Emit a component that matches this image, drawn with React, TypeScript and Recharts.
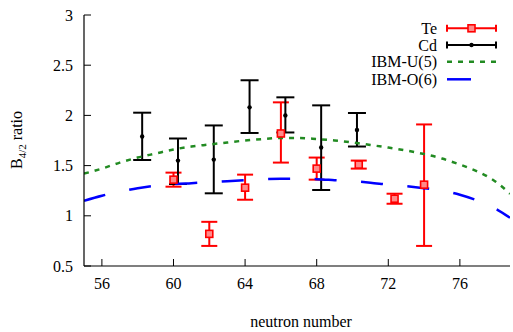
import { ComposedChart, XAxis, YAxis, Line, Scatter, ErrorBar } from 'recharts';

const xTicks = [56, 60, 64, 68, 72, 76];
const yTicks = [0.5, 1, 1.5, 2, 2.5, 3];

// Te data (value with asymmetric error range)
const teN = [60, 62, 64, 66, 68, 70.35, 72.35, 74];
const teRatio = [1.36, 0.82, 1.28, 1.82, 1.47, 1.51, 1.17, 1.31];
const teLow = [1.29, 0.7, 1.16, 1.53, 1.36, 1.47, 1.12, 0.7];
const teHigh = [1.43, 0.94, 1.41, 2.13, 1.58, 1.55, 1.22, 1.91];

// Cd data
const cdN = [58.25, 60.25, 62.25, 64.25, 66.25, 68.25, 70.25];
const cdRatio = [1.79, 1.55, 1.56, 2.08, 2.0, 1.68, 1.855];
const cdLow = [1.556, 1.317, 1.224, 1.825, 1.83, 1.257, 1.69];
const cdHigh = [2.027, 1.77, 1.9, 2.35, 2.18, 2.1, 2.024];

// model curves
const curveN = [55, 56, 57, 58, 59, 60, 61, 62, 63, 64, 65, 66, 67, 68, 69, 70, 71, 72, 73, 74, 75, 76, 77, 78, 78.8];
const ibmU5 = [1.42, 1.47, 1.53, 1.58, 1.62, 1.66, 1.69, 1.71, 1.73, 1.75, 1.765, 1.775, 1.775, 1.765, 1.75, 1.73, 1.705, 1.68, 1.65, 1.615, 1.57, 1.51, 1.44, 1.34, 1.22];
const ibmO6 = [1.15, 1.2, 1.24, 1.275, 1.3, 1.315, 1.325, 1.335, 1.345, 1.355, 1.365, 1.37, 1.37, 1.365, 1.355, 1.345, 1.33, 1.31, 1.295, 1.275, 1.25, 1.21, 1.15, 1.07, 0.98];

const teData = teN.map((x, i) => ({ x, y: teRatio[i], err: [teRatio[i] - teLow[i], teHigh[i] - teRatio[i]] }));
const cdData = cdN.map((x, i) => ({ x, y: cdRatio[i], err: [cdRatio[i] - cdLow[i], cdHigh[i] - cdRatio[i]] }));
const u5Data = curveN.map((x, i) => ({ x, y: ibmU5[i] }));
const o6Data = curveN.map((x, i) => ({ x, y: ibmO6[i] }));

const FONT = '"Liberation Serif", "Times New Roman", serif';
const RED = '#ff0000';
const GREEN = '#228b22';
const BLUE = '#0000ff';
const tickStyle = { fill: '#000', fontSize: 16, fontFamily: FONT };
const blank = () => '';

const TeMarker = (p: any) => (
  <rect x={p.cx - 3.5} y={p.cy - 3.5} width={7} height={7} fill="#ff8a8a" stroke={RED} strokeWidth={1.6} />
);
const CdMarker = (p: any) => <circle cx={p.cx} cy={p.cy} r={2.2} fill="#000" />;

function LegendBlock() {
  const x0 = 447;
  const x1 = 496;
  const tx = 437;
  const rows = [28.3, 45, 61.7, 79.3];
  return (
    <g fontFamily={FONT} fontSize={16}>
      <text x={tx} y={rows[0] + 5.6} textAnchor="end">Te</text>
      <line x1={x0} y1={rows[0]} x2={x1} y2={rows[0]} stroke={RED} strokeWidth={2} />
      <line x1={x0} y1={rows[0] - 3.5} x2={x0} y2={rows[0] + 3.5} stroke={RED} strokeWidth={2} />
      <line x1={x1} y1={rows[0] - 3.5} x2={x1} y2={rows[0] + 3.5} stroke={RED} strokeWidth={2} />
      <TeMarker cx={(x0 + x1) / 2} cy={rows[0]} />

      <text x={tx} y={rows[1] + 5.6} textAnchor="end">Cd</text>
      <line x1={x0} y1={rows[1]} x2={x1} y2={rows[1]} stroke="#000" strokeWidth={2} />
      <line x1={x0} y1={rows[1] - 3.5} x2={x0} y2={rows[1] + 3.5} stroke="#000" strokeWidth={2} />
      <line x1={x1} y1={rows[1] - 3.5} x2={x1} y2={rows[1] + 3.5} stroke="#000" strokeWidth={2} />
      <CdMarker cx={(x0 + x1) / 2} cy={rows[1]} />

      <text x={tx} y={rows[2] + 5.6} textAnchor="end">IBM-U(5)</text>
      <line x1={x0} y1={rows[2]} x2={x1} y2={rows[2]} stroke={GREEN} strokeWidth={2.5} strokeDasharray="5 6" />

      <text x={tx} y={rows[3] + 5.6} textAnchor="end">IBM-O(6)</text>
      <line x1={x0} y1={rows[3]} x2={471} y2={rows[3]} stroke={BLUE} strokeWidth={2.5} />
    </g>
  );
}

function AxisTitles() {
  return (
    <g fontFamily={FONT} fontSize={16} fill="#000">
      <text x={301} y={327} textAnchor="middle">neutron number</text>
      <text x={0} y={0} textAnchor="middle" transform="translate(22 140) rotate(-90)">
        <tspan>B</tspan>
        <tspan fontSize={11} dy={4}>4/2</tspan>
        <tspan dy={-4}> ratio</tspan>
      </text>
    </g>
  );
}

export default function App() {
  return (
    <div style={{ position: 'absolute', left: 0, top: 0, background: '#fff', fontFamily: FONT }}>
      <ComposedChart width={513} height={332} margin={{ top: 15, right: 3, bottom: 0, left: 0 }}>
        <XAxis
          type="number"
          dataKey="x"
          domain={[55, 78.8]}
          ticks={xTicks}
          interval={0}
          allowDataOverflow
          height={66}
          tickSize={-7}
          tickMargin={19}
          axisLine={{ stroke: '#000', strokeWidth: 1.2 }}
          tickLine={{ stroke: '#000', strokeWidth: 1 }}
          tick={tickStyle}
        />
        <XAxis
          xAxisId="top"
          orientation="top"
          type="number"
          domain={[55, 78.8]}
          ticks={xTicks}
          interval={0}
          allowDataOverflow
          height={0}
          tickSize={-7}
          tickFormatter={blank}
          axisLine={{ stroke: '#000', strokeWidth: 1.2 }}
          tickLine={{ stroke: '#000', strokeWidth: 1 }}
        />
        <YAxis
          type="number"
          domain={[0.5, 3]}
          ticks={yTicks}
          interval={0}
          allowDataOverflow
          width={84}
          tickSize={-7}
          tickMargin={18}
          axisLine={{ stroke: '#000', strokeWidth: 1.2 }}
          tickLine={{ stroke: '#000', strokeWidth: 1 }}
          tick={tickStyle}
        />
        <YAxis
          yAxisId="right"
          orientation="right"
          type="number"
          domain={[0.5, 3]}
          ticks={yTicks}
          interval={0}
          allowDataOverflow
          width={0}
          tickSize={-7}
          tickFormatter={blank}
          axisLine={{ stroke: '#000', strokeWidth: 1.2 }}
          tickLine={{ stroke: '#000', strokeWidth: 1 }}
        />
        <Scatter data={teData} dataKey="y" shape={TeMarker} isAnimationActive={false}>
          <ErrorBar dataKey="err" direction="y" width={8} stroke={RED} strokeWidth={2} isAnimationActive={false} />
        </Scatter>
        <Scatter data={cdData} dataKey="y" shape={CdMarker} isAnimationActive={false}>
          <ErrorBar dataKey="err" direction="y" width={9} stroke="#000" strokeWidth={2} isAnimationActive={false} />
        </Scatter>
        <Line data={u5Data} dataKey="y" type="monotone" stroke={GREEN} strokeWidth={2.5} strokeDasharray="5 6" dot={false} activeDot={false} isAnimationActive={false} />
        <Line data={o6Data} dataKey="y" type="monotone" stroke={BLUE} strokeWidth={2.5} strokeDasharray="22 24.5" dot={false} activeDot={false} isAnimationActive={false} />
        <LegendBlock />
        <AxisTitles />
      </ComposedChart>
    </div>
  );
}
